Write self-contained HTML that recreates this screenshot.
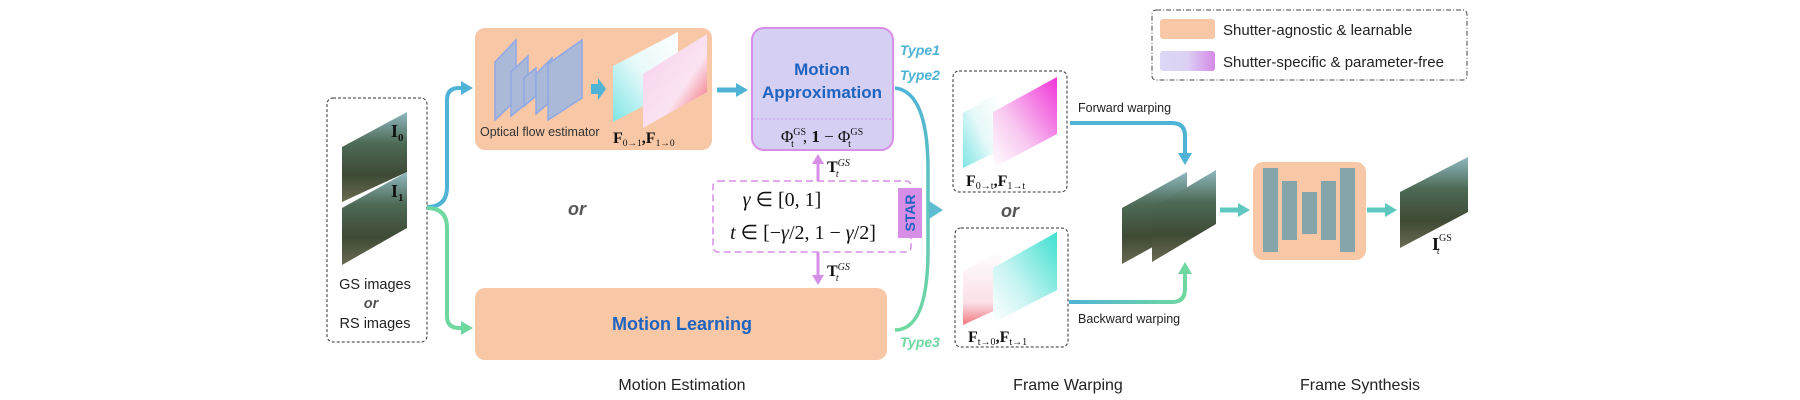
<!DOCTYPE html>
<html><head><meta charset="utf-8"><style>
html,body{margin:0;padding:0;background:#fff;}
svg{display:block;}
text{font-family:"Liberation Sans",sans-serif;}
.m{font-family:"Liberation Serif",serif;}
</style></head><body>
<svg width="1800" height="400" viewBox="0 0 1800 400" xmlns="http://www.w3.org/2000/svg">
<defs>
<linearGradient id="photo" x1="0" y1="0" x2="0" y2="1">
<stop offset="0" stop-color="#8fb8c0"/><stop offset="0.35" stop-color="#4d6a55"/><stop offset="0.7" stop-color="#3e4a35"/><stop offset="1" stop-color="#6b6a52"/></linearGradient>
<linearGradient id="cyanf" x1="0" y1="1" x2="1" y2="0"><stop offset="0" stop-color="#7ee5e6"/><stop offset="0.5" stop-color="#e8f9f9"/><stop offset="1" stop-color="#ffffff"/></linearGradient>
<linearGradient id="pinkf" x1="0" y1="0" x2="1" y2="1"><stop offset="0" stop-color="#f7d0ee"/><stop offset="0.6" stop-color="#fbe3f0"/><stop offset="1" stop-color="#ef4a55"/></linearGradient>
<linearGradient id="magf" x1="1" y1="0" x2="0" y2="1"><stop offset="0" stop-color="#f035d8"/><stop offset="0.6" stop-color="#f8c8f0"/><stop offset="1" stop-color="#ffffff"/></linearGradient>
<linearGradient id="tealf" x1="1" y1="0" x2="0" y2="1"><stop offset="0" stop-color="#3ee0d0"/><stop offset="0.6" stop-color="#c8f4f2"/><stop offset="1" stop-color="#ffffff"/></linearGradient>
<linearGradient id="redf" x1="0" y1="0" x2="0" y2="1"><stop offset="0" stop-color="#ffffff"/><stop offset="0.7" stop-color="#fbe0e8"/><stop offset="1" stop-color="#f07a80"/></linearGradient>
<linearGradient id="leg2" x1="0" y1="0" x2="1" y2="0"><stop offset="0" stop-color="#dcd8f6"/><stop offset="0.5" stop-color="#dcd0f4"/><stop offset="1" stop-color="#d48ae6"/></linearGradient>
<linearGradient id="bw" x1="0" y1="0" x2="1" y2="0"><stop offset="0" stop-color="#4fb3d6"/><stop offset="1" stop-color="#6fd8a0"/></linearGradient>
<linearGradient id="rc" x1="0" y1="0" x2="0" y2="1"><stop offset="0" stop-color="#4fb3d6"/><stop offset="1" stop-color="#6fd8a0"/></linearGradient>
<marker id="ab" markerWidth="12" markerHeight="14" refX="2" refY="7" orient="auto" markerUnits="userSpaceOnUse"><path d="M0,0 L12,7 L0,14 z" fill="#4fb3d6"/></marker>
<marker id="ag" markerWidth="12" markerHeight="14" refX="2" refY="7" orient="auto" markerUnits="userSpaceOnUse"><path d="M0,0 L12,7 L0,14 z" fill="#6fd8a0"/></marker>
<marker id="at" markerWidth="12" markerHeight="14" refX="2" refY="7" orient="auto" markerUnits="userSpaceOnUse"><path d="M0,0 L12,7 L0,14 z" fill="#5ec8c0"/></marker>
<marker id="ap" markerWidth="10" markerHeight="12" refX="2" refY="6" orient="auto" markerUnits="userSpaceOnUse"><path d="M0,0 L10,6 L0,12 z" fill="#d68ee6"/></marker>
<marker id="ab2" markerWidth="14" markerHeight="18" refX="2" refY="9" orient="auto" markerUnits="userSpaceOnUse"><path d="M0,0 L14,9 L0,18 z" fill="#5ebcd0"/></marker>
</defs>

<!-- legend -->
<rect x="1152" y="10" width="315" height="70" rx="4" fill="none" stroke="#444" stroke-width="1" stroke-dasharray="5,2,1,2"/>
<rect x="1160" y="19" width="55" height="20" rx="3" fill="#f7c7a6"/>
<rect x="1160" y="51" width="55" height="20" rx="3" fill="url(#leg2)"/>
<text x="1223" y="35" font-size="15" fill="#222">Shutter-agnostic &amp; learnable</text>
<text x="1223" y="67" font-size="15" fill="#222">Shutter-specific &amp; parameter-free</text>

<!-- input box -->
<rect x="327" y="98" width="100" height="244" rx="6" fill="#fff" stroke="#333" stroke-dasharray="3,2"/>
<polygon points="342,147 407,112 407,172 342,202" fill="url(#photo)"/>
<polygon points="342,208 407,172 407,228 342,265" fill="url(#photo)"/>
<text x="391" y="137" class="m" font-size="18" font-weight="bold" fill="#111">I<tspan font-size="11" dy="4">0</tspan></text>
<text x="391" y="197" class="m" font-size="18" font-weight="bold" fill="#111">I<tspan font-size="11" dy="4">1</tspan></text>
<text x="375" y="289" font-size="14.5" text-anchor="middle" fill="#222">GS images</text>
<text x="371" y="308" font-size="14.5" font-style="italic" font-weight="bold" text-anchor="middle" fill="#555">or</text>
<text x="375" y="328" font-size="14.5" text-anchor="middle" fill="#222">RS images</text>

<!-- branch curves -->
<path d="M427,207 Q447,207 447,187 L447,100 Q447,88 459,88 L463,88" fill="none" stroke="#4fb3d6" stroke-width="4" marker-end="url(#ab)"/>
<path d="M427,208 Q447,208 447,228 L447,316 Q447,328 459,328 L463,328" fill="none" stroke="#6fd8a0" stroke-width="4" marker-end="url(#ag)"/>

<!-- top orange -->
<rect x="475" y="28" width="237" height="122" rx="10" fill="#f7c7a6"/>
<g fill="#aab9d8" stroke="#8fa8e6" stroke-width="1.5">
<polygon points="495,62 516,40 516,100 495,120"/>
<polygon points="511,72 528,56 528,102 511,116"/>
<polygon points="524,78 536,68 536,96 524,106"/>
<polygon points="536,74 552,58 552,100 536,114"/>
<polygon points="548,64 582,40 582,98 548,120"/>
</g>
<path d="M591,84 L598,84 L598,78 L606,89 L598,100 L598,94 L591,94 z" fill="#4fb3d6"/>
<polygon points="613,66 678,32 678,88 613,122" fill="url(#cyanf)"/>
<polygon points="643,74 707,34 707,92 643,128" fill="url(#pinkf)"/>
<text x="480" y="136" font-size="12.5" fill="#333">Optical flow estimator</text>
<text x="613" y="143" class="m" font-size="16" font-weight="bold" fill="#111">F<tspan font-size="9.5" font-weight="normal" dy="3">0→1</tspan><tspan dy="-3">,</tspan>F<tspan font-size="9.5" font-weight="normal" dy="3">1→0</tspan></text>
<path d="M717,90 L738,90" stroke="#4fb3d6" stroke-width="5" marker-end="url(#ab)"/>

<!-- Motion approximation -->
<rect x="752" y="28" width="141" height="122" rx="12" fill="#d5d0f3" stroke="#d68ee6" stroke-width="2"/>
<line x1="753" y1="119" x2="892" y2="119" stroke="#d68ee6" stroke-dasharray="2,2"/>
<text x="822" y="75" font-size="17" font-weight="bold" text-anchor="middle" fill="#1f63c0">Motion</text>
<text x="822" y="98" font-size="17" font-weight="bold" text-anchor="middle" fill="#1f63c0">Approximation</text>
<text x="822" y="142" class="m" font-size="17" text-anchor="middle" fill="#111">Φ<tspan font-size="10" dy="-7">GS</tspan><tspan font-size="10" dx="-15" dy="12">t</tspan><tspan dy="-5" dx="9">, </tspan><tspan font-weight="bold">1</tspan> − Φ<tspan font-size="10" dy="-7">GS</tspan><tspan font-size="10" dx="-15" dy="12">t</tspan></text>

<text x="900" y="55" font-size="14" font-style="italic" font-weight="bold" fill="#4fb3d6">Type1</text>
<text x="900" y="80" font-size="14" font-style="italic" font-weight="bold" fill="#4fb3d6">Type2</text>
<text x="900" y="347" font-size="14" font-style="italic" font-weight="bold" fill="#6fd8a0">Type3</text>

<!-- STAR box -->
<rect x="713" y="181" width="198" height="71" rx="5" fill="none" stroke="#d68ee6" stroke-width="1.5" stroke-dasharray="7,4"/>
<rect x="898" y="188" width="24" height="50" fill="#d68ee6"/>
<text x="910" y="213" font-size="14" font-weight="bold" fill="#1f63c0" text-anchor="middle" transform="rotate(-90 910 213)" dy="5">STAR</text>
<text x="782" y="206" class="m" font-size="20" text-anchor="middle" fill="#111"><tspan font-style="italic">γ</tspan> ∈ [0, 1]</text>
<text x="803" y="239" class="m" font-size="20" text-anchor="middle" fill="#111"><tspan font-style="italic">t</tspan> ∈ [−<tspan font-style="italic">γ</tspan>/2, 1 − <tspan font-style="italic">γ</tspan>/2]</text>
<path d="M818,181 L818,162" stroke="#d68ee6" stroke-width="3" marker-end="url(#ap)"/>
<path d="M818,252 L818,277" stroke="#d68ee6" stroke-width="3" marker-end="url(#ap)"/>
<text x="827" y="172" class="m" font-size="16" font-weight="bold" fill="#111">T<tspan font-size="10" font-style="italic" font-weight="normal" dy="-6">GS</tspan><tspan font-size="10" font-style="italic" font-weight="normal" dx="-14" dy="11">t</tspan></text>
<text x="827" y="276" class="m" font-size="16" font-weight="bold" fill="#111">T<tspan font-size="10" font-style="italic" font-weight="normal" dy="-6">GS</tspan><tspan font-size="10" font-style="italic" font-weight="normal" dx="-14" dy="11">t</tspan></text>

<text x="577" y="215" font-size="18" font-style="italic" font-weight="bold" text-anchor="middle" fill="#555">or</text>

<!-- Motion learning -->
<rect x="475" y="288" width="412" height="72" rx="10" fill="#f7c7a6"/>
<text x="682" y="330" font-size="18" font-weight="bold" text-anchor="middle" fill="#1f63c0">Motion Learning</text>

<!-- right curves -->
<path d="M895,88 Q928,92 928,170 L928,250 Q928,330 895,330" fill="none" stroke="url(#rc)" stroke-width="3.5"/>
<path d="M929,210 L931,210" stroke="#5ebcd0" stroke-width="6" marker-end="url(#ab2)"/>

<!-- warping boxes -->
<rect x="953" y="71" width="114" height="121" rx="6" fill="#fff" stroke="#333" stroke-dasharray="3,2"/>
<polygon points="963,113 1000,92 1000,150 963,168" fill="url(#cyanf)"/>
<polygon points="993,112 1057,77 1057,134 993,168" fill="url(#magf)"/>
<text x="966" y="186" class="m" font-size="16" font-weight="bold" fill="#111">F<tspan font-size="10" font-weight="normal" dy="3">0→t</tspan><tspan dy="-3">,</tspan>F<tspan font-size="10" font-weight="normal" dy="3">1→t</tspan></text>
<text x="1010" y="217" font-size="18" font-style="italic" font-weight="bold" text-anchor="middle" fill="#555">or</text>
<rect x="955" y="228" width="113" height="119" rx="6" fill="#fff" stroke="#333" stroke-dasharray="3,2"/>
<polygon points="963,272 1000,250 1000,308 963,325" fill="url(#redf)"/>
<polygon points="993,268 1057,232 1057,290 993,323" fill="url(#tealf)"/>
<text x="968" y="342" class="m" font-size="16" font-weight="bold" fill="#111">F<tspan font-size="10" font-weight="normal" dy="3">t→0</tspan><tspan dy="-3">,</tspan>F<tspan font-size="10" font-weight="normal" dy="3">t→1</tspan></text>

<text x="1078" y="112" font-size="12.5" fill="#222">Forward warping</text>
<text x="1078" y="323" font-size="12.5" fill="#222">Backward warping</text>
<path d="M1070,123 L1172,123 Q1185,123 1185,136 L1185,155" fill="none" stroke="#4fb3d6" stroke-width="4" marker-end="url(#ab)"/>
<path d="M1069,302 L1172,302 Q1185,302 1185,289 L1185,275" fill="none" stroke="url(#bw)" stroke-width="4"/>
<path d="M1185,280 L1185,272" stroke="#6fd8a0" stroke-width="4" marker-end="url(#ag)"/>

<!-- warped images -->
<polygon points="1122,208 1187,172 1187,228 1122,264" fill="url(#photo)"/>
<polygon points="1152,208 1216,170 1216,224 1152,262" fill="url(#photo)"/>
<path d="M1220,210 L1240,210" stroke="#5ec8c0" stroke-width="5" marker-end="url(#at)"/>

<!-- synthesis -->
<rect x="1253" y="162" width="113" height="98" rx="10" fill="#f7c7a6"/>
<g fill="#85a5ab">
<rect x="1263" y="168" width="15" height="84"/>
<rect x="1282" y="181" width="15" height="59"/>
<rect x="1302" y="192" width="15" height="42"/>
<rect x="1321" y="181" width="15" height="59"/>
<rect x="1340" y="168" width="15" height="84"/>
</g>
<path d="M1367,210 L1387,210" stroke="#5ec8c0" stroke-width="5" marker-end="url(#at)"/>
<polygon points="1400,192 1468,157 1468,212 1400,248" fill="url(#photo)"/>
<text x="1432" y="250" class="m" font-size="18" font-weight="bold" fill="#111">I<tspan font-size="10" font-weight="normal" dy="-9">GS</tspan><tspan font-size="10" font-style="italic" font-weight="normal" dx="-15" dy="13">t</tspan></text>

<!-- bottom labels -->
<text x="682" y="390" font-size="16" text-anchor="middle" fill="#222">Motion Estimation</text>
<text x="1068" y="390" font-size="16" text-anchor="middle" fill="#222">Frame Warping</text>
<text x="1360" y="390" font-size="16" text-anchor="middle" fill="#222">Frame Synthesis</text>
</svg>
</body></html>
